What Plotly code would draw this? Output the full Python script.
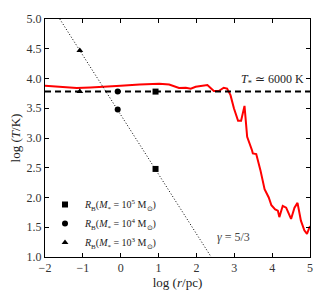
import plotly.graph_objects as go

# Red temperature profile: log r [pc] vs log T [K]
log_r = [-2.0, -1.5, -1.16, -0.8, -0.4, 0.0, 0.5, 1.02, 1.28, 1.54, 1.72, 1.85, 1.98, 2.29,
         2.46, 2.59, 2.72, 2.81, 2.90, 2.99, 3.10, 3.18, 3.27, 3.34, 3.47, 3.49, 3.58,
         3.69, 3.80, 3.91, 3.98, 4.08, 4.15, 4.19, 4.28, 4.37, 4.50, 4.59, 4.67, 4.76,
         4.85, 4.92, 5.0]
log_T = [3.88, 3.86, 3.84, 3.85, 3.86, 3.88, 3.90, 3.91, 3.90, 3.84, 3.845, 3.83, 3.86, 3.89,
         3.79, 3.79, 3.845, 3.83, 3.72, 3.50, 3.29, 3.29, 3.54, 3.02, 2.79, 2.74, 2.73,
         2.46, 2.14, 2.00, 1.87, 1.80, 1.78, 1.67, 1.86, 1.83, 1.64, 1.83, 1.91, 1.61,
         1.45, 1.39, 1.52]

# Stellar temperature line
t_star_x = [-2.0, 5.0]
t_star_y = [3.78, 3.78]

# gamma = 5/3 line
gamma_x = [-1.61, 2.39]
gamma_y = [5.0, 1.0]

# Bondi radii markers
rb_labels = ["<i>R</i><sub>B</sub>(<i>M</i><sub>*</sub> = 10<sup>5</sup> M<sub>⊙</sub>)",
             "<i>R</i><sub>B</sub>(<i>M</i><sub>*</sub> = 10<sup>4</sup> M<sub>⊙</sub>)",
             "<i>R</i><sub>B</sub>(<i>M</i><sub>*</sub> = 10<sup>3</sup> M<sub>⊙</sub>)"]
rb_symbols = ["square", "circle", "triangle-up"]
rb_x = [[0.92, 0.92], [-0.08, -0.08], [-1.08, -1.08]]
rb_y = [[3.78, 2.48], [3.78, 3.48], [3.78, 4.47]]

x_ticks = [-2, -1, 0, 1, 2, 3, 4, 5]
y_ticks = [1.0, 1.5, 2.0, 2.5, 3.0, 3.5, 4.0, 4.5, 5.0]

FONT = "Liberation Serif"

fig = go.Figure()
fig.add_trace(go.Scatter(x=log_r, y=log_T, mode="lines",
                         line=dict(color="#ff0000", width=2), showlegend=False))
fig.add_trace(go.Scatter(x=t_star_x, y=t_star_y, mode="lines",
                         line=dict(color="black", width=2, dash="6px,4px"), showlegend=False))
fig.add_trace(go.Scatter(x=gamma_x, y=gamma_y, mode="lines",
                         line=dict(color="black", width=1, dash="1px,2px"), showlegend=False))
for lab, sym, xs, ys in zip(rb_labels, rb_symbols, rb_x, rb_y):
    fig.add_trace(go.Scatter(x=xs, y=ys, mode="markers", name=lab,
                             marker=dict(symbol=sym, color="black", size=6)))

fig.add_annotation(x=4.9, y=3.97, xref="x", yref="y", text="<i>T</i><sub>*</sub> ≃ 6000 K",
                   showarrow=False, xanchor="right", yanchor="middle",
                   font=dict(family=FONT, size=12, color="#222"))
fig.add_annotation(x=2.5, y=1.33, xref="x", yref="y", text="<i>γ</i> = 5/3",
                   showarrow=False, xanchor="left", yanchor="middle",
                   font=dict(family=FONT, size=12, color="#444"))

axis_common = dict(showline=True, linecolor="black", linewidth=1, mirror="ticks",
                   ticks="inside", ticklen=4, tickcolor="black", showgrid=False,
                   zeroline=False, tickfont=dict(family=FONT, size=12, color="#333"))
fig.update_xaxes(range=[-2, 5], tickvals=x_ticks, ticktext=[str(v).replace("-", "−") for v in x_ticks],
                 title=dict(text="log (<i>r</i>/pc)", font=dict(family=FONT, size=13, color="#222"),
                            standoff=3), **axis_common)
fig.update_yaxes(range=[1.0, 5.0], tickvals=y_ticks, ticktext=[f"{v:.1f}" for v in y_ticks],
                 title=dict(text="log (<i>T</i>/K)", font=dict(family=FONT, size=13, color="#222"),
                            standoff=3), **axis_common)

fig.update_layout(width=325, height=300, margin=dict(l=45, r=13, t=15, b=41),
                  plot_bgcolor="white", paper_bgcolor="white",
                  font=dict(family=FONT, size=11, color="black"),
                  legend=dict(x=0.0, y=0.0, xanchor="left", yanchor="bottom",
                              bgcolor="rgba(0,0,0,0)", borderwidth=0,
                              font=dict(family=FONT, size=10, color="#222"),
                              itemwidth=30, tracegroupgap=0))

fig.write_html("out.html", config={"displayModeBar": False},
               post_script="document.body.style.margin='0';document.body.style.padding='0';")
